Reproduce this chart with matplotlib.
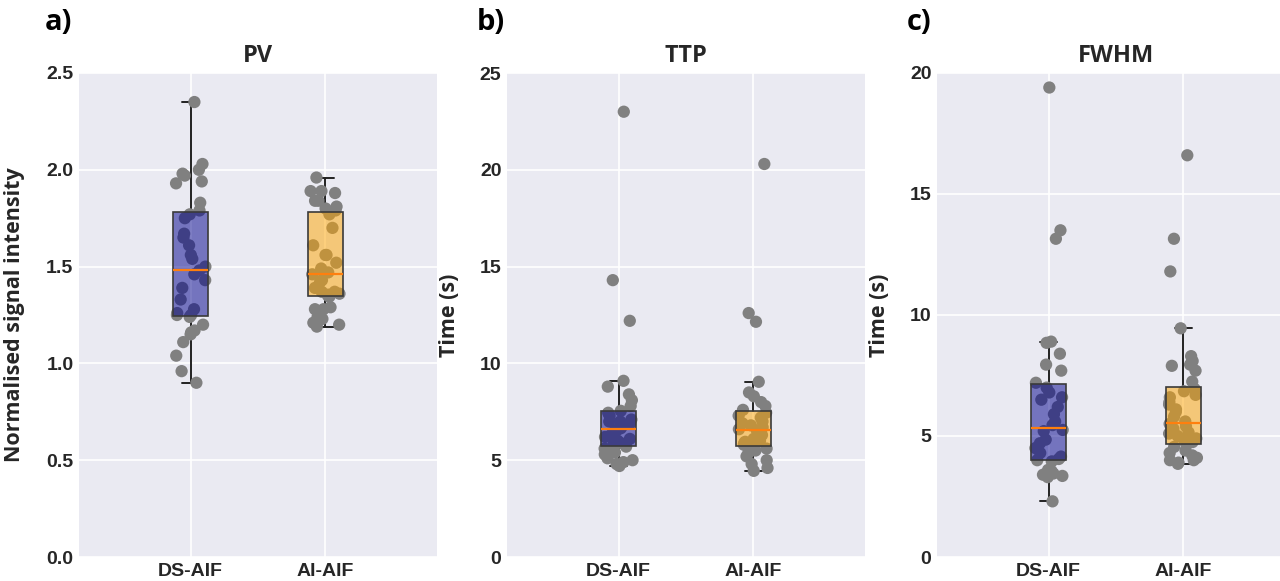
import numpy as np
import matplotlib
matplotlib.use("Agg")
import matplotlib.pyplot as plt
import seaborn as sns

sns.set_style("darkgrid")
plt.rcParams['font.family'] = ['Liberation Sans', 'DejaVu Sans']

# ---------------- data ----------------
categories = ["DS-AIF", "AI-AIF"]
panel_labels = ["a)", "b)", "c)"]
titles = ["PV", "TTP", "FWHM"]
ylabels = ["Normalised signal intensity", "Time (s)", "Time (s)"]

pv_ds = [2.35, 2.03, 2.00, 1.98, 1.97, 1.94, 1.93, 1.83, 1.79, 1.77, 1.75, 1.67,
         1.65, 1.61, 1.56, 1.54, 1.50, 1.48, 1.46, 1.43, 1.39, 1.33, 1.28, 1.26,
         1.25, 1.25, 1.24, 1.20, 1.17, 1.16, 1.15, 1.11, 1.04, 0.96, 0.90]
pv_ai = [1.96, 1.89, 1.89, 1.88, 1.84, 1.84, 1.81, 1.80, 1.79, 1.77, 1.70, 1.61,
         1.56, 1.56, 1.52, 1.49, 1.47, 1.46, 1.43, 1.42, 1.39, 1.37, 1.37, 1.36,
         1.35, 1.355, 1.345, 1.29, 1.28, 1.28, 1.24, 1.23, 1.21, 1.20, 1.19]

ttp_ds = [23.0, 14.3, 12.2, 9.1, 8.8, 8.4, 8.1, 7.8, 7.55, 7.45, 7.3, 7.1, 7.0,
          7.0, 6.9, 6.8, 6.65, 6.55, 6.5, 6.3, 6.2, 6.1, 6.0, 5.9, 5.8, 5.7, 5.6,
          5.4, 5.3, 5.1, 5.0, 4.9, 4.8, 4.7]
ttp_ai = [20.3, 12.6, 12.15, 9.05, 8.5, 8.3, 8.0, 7.8, 7.6, 7.45, 7.3, 7.2, 7.0,
          6.9, 6.8, 6.7, 6.6, 6.5, 6.3, 6.1, 6.0, 5.95, 5.9, 5.85, 5.8, 5.7, 5.6,
          5.5, 5.4, 5.2, 5.0, 4.8, 4.6, 4.45]

fwhm_ds = [19.4, 13.5, 13.15, 8.9, 8.85, 8.4, 7.95, 7.7, 7.2, 7.0, 6.8, 6.6, 6.5,
           6.2, 5.9, 5.6, 5.45, 5.25, 5.2, 4.85, 4.7, 4.5, 4.3, 4.15, 4.05, 4.0,
           3.95, 3.6, 3.55, 3.45, 3.4, 3.35, 3.3, 2.3]
fwhm_ai = [16.6, 13.15, 11.8, 9.45, 8.3, 8.1, 7.95, 7.9, 7.7, 7.25, 6.95, 6.85,
           6.7, 6.6, 6.4, 6.3, 6.1, 6.0, 5.8, 5.6, 5.5, 5.4, 5.3, 5.15, 5.1, 5.0,
           4.9, 4.8, 4.75, 4.7, 4.65, 4.55, 4.4, 4.3, 4.2, 4.1, 4.0, 4.0, 3.9, 3.85]

panel_data = [[pv_ds, pv_ai], [ttp_ds, ttp_ai], [fwhm_ds, fwhm_ai]]
y_max = [2.5, 25, 20]
y_ticks = [[0.0, 0.5, 1.0, 1.5, 2.0, 2.5], [0, 5, 10, 15, 20, 25], [0, 5, 10, 15, 20]]
y_fmt = ["{:.1f}", "{:d}", "{:d}"]

# ---------------- style ----------------
box_colors = [(0.0, 0.0, 0.545, 0.5), (1.0, 0.647, 0.0, 0.5)]
point_color = "#808080"
text_color = "#262626"

W, H = 1280, 581
fig = plt.figure(figsize=(W / 100, H / 100), dpi=100)
lefts = [79, 507, 937]
axw = 358
top, bottom = 73, 557
label_x = [45, 477, 907]

rng = np.random.default_rng(7)

for i in range(3):
    ax = fig.add_axes([lefts[i] / W, (H - bottom) / H, axw / W, (bottom - top) / H])
    ax.set_facecolor("#EAEAF2")
    data = panel_data[i]
    # strip points
    for j, vals in enumerate(data):
        vals = np.asarray(vals, dtype=float)
        xs = (j + 1) + rng.uniform(-0.11, 0.11, size=len(vals))
        ax.scatter(xs, vals, s=78, color=point_color, edgecolors="none", zorder=2)
    bp = ax.boxplot(data, positions=[1, 2], widths=0.26, patch_artist=True,
                    showfliers=False, whis=1.5,
                    boxprops=dict(linewidth=1.2, edgecolor="#3a3a3a"),
                    medianprops=dict(color="#ff7f0e", linewidth=1.6),
                    whiskerprops=dict(color="#222222", linewidth=1.4),
                    capprops=dict(color="#222222", linewidth=1.4))
    for patch, c in zip(bp["boxes"], box_colors):
        patch.set_facecolor(c)
        patch.set_zorder(3)
    for m in bp["medians"]:
        m.set_zorder(4)
    for w in bp["whiskers"] + bp["caps"]:
        w.set_zorder(1.5)

    ax.set_xlim(0.17, 2.83)
    ax.set_ylim(0, y_max[i])
    ax.set_xticks([1, 2])
    ax.set_xticklabels(categories, fontsize=14, fontweight="bold", color=text_color)
    ax.set_yticks(y_ticks[i])
    ax.set_yticklabels([y_fmt[i].format(v) for v in y_ticks[i]],
                       fontsize=14, fontweight="bold", color=text_color)
    ax.tick_params(axis="y", pad=4, length=0)
    ax.tick_params(axis="x", pad=4, length=0)
    ax.grid(True, color="white", linewidth=1.2)
    ax.set_axisbelow(True)
    for s in ax.spines.values():
        s.set_visible(False)
    ax.set_title(titles[i], fontsize=17, fontweight="bold", color=text_color,
                 family=["Open Sans", "DejaVu Sans"], pad=8)
    ax.set_ylabel(ylabels[i], fontsize=15.5, fontweight="bold", color=text_color,
                  family=["Open Sans", "DejaVu Sans"])
    ax.yaxis.set_label_coords(-0.15 if i == 0 else -0.131, 0.5)
    fig.text(label_x[i] / W, 1 - 22 / H, panel_labels[i], fontsize=21,
             fontweight="bold", color="black", family=["Open Sans", "DejaVu Sans"],
             ha="left", va="center")

fig.savefig("out.png", dpi=100)
